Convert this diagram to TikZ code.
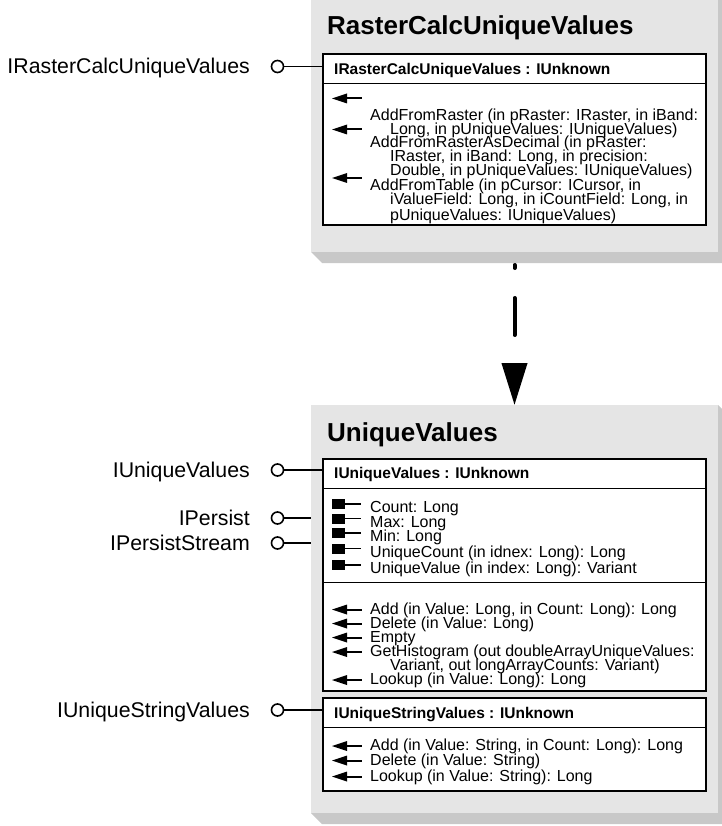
\documentclass[tikz,border=0pt]{standalone}
\usepackage{fontspec}
\setmainfont{Liberation Sans}
\usetikzlibrary{arrows.meta}
\definecolor{panelgray}{RGB}{229,229,229}
\definecolor{shadegray}{RGB}{200,200,200}
\newcommand{\methodicon}[1]{\fill (332,#1) -- (347,{#1-5}) -- (347,{#1+5}) -- cycle; \draw[line width=2pt] (346,#1) -- (362,#1);}
\newcommand{\attricon}[1]{\fill (332,{#1-5}) rectangle (345,{#1+5}); \draw[line width=1.6pt] (344,#1) -- (361,#1);}
\begin{document}
\begin{tikzpicture}[x=1pt,y=-1pt,
  panelbox/.style={rectangle,fill=panelgray,draw=none,inner sep=0pt,outer sep=0pt,minimum width=407pt,anchor=north west},
  innerbox/.style={rectangle,draw,line width=2pt,fill=white,inner sep=0pt,outer sep=0pt,minimum width=383pt,anchor=north west},
  titletext/.style={anchor=base west,inner sep=0pt,font=\bfseries\fontsize{26}{26}\selectfont},
  hdrtext/.style={anchor=base west,inner sep=0pt,font=\bfseries\fontsize{15.5}{16}\selectfont},
  membertext/.style={anchor=base west,inner sep=0pt,text height=10pt,text depth=2pt,font=\fontsize{16}{16}\selectfont},
  lbltext/.style={anchor=base east,inner sep=0pt,font=\fontsize{21.3}{21}\selectfont},
  lolli/.style={circle,draw,line width=1.6pt,fill=white,minimum size=12pt,inner sep=0pt},
  stick/.style={line width=1.5pt},
  sepline/.style={line width=0.8pt}]
\useasboundingbox (0,0) rectangle (721,826);

% ---------- top panel ----------
\node[panelbox,minimum height=257pt] (p1) at (311,-5) {};
\fill[shadegray] (p1.north east) -- ++(11,11) -- ([shift={(11,11)}]p1.south east) -- ([shift={(11,11)}]p1.south west) -- (p1.south west) -- (p1.south east) -- cycle;
\node[titletext] (t1) at (327,34.5) {RasterCalcUniqueValues};
\node[innerbox,minimum height=171pt] (b1) at (323,54) {};
\draw[sepline] ([yshift=-29pt]b1.north west) -- ([yshift=-29pt]b1.north east);
\node[hdrtext] (h1) at (334,75) {IRasterCalcUniqueValues : IUnknown};
\methodicon{98.5}
\methodicon{129.5}
\methodicon{178}
\node[membertext] (a1) at (370,120.5) {AddFromRaster (in pRaster: IRaster, in iBand:};
\node[membertext] (a2) at (390,134.5) {Long, in pUniqueValues: IUniqueValues)};
\node[membertext] (a3) at (370,148) {AddFromRasterAsDecimal (in pRaster:};
\node[membertext] (a4) at (390,162) {IRaster, in iBand: Long, in precision:};
\node[membertext] (a5) at (390,176) {Double, in pUniqueValues: IUniqueValues)};
\node[membertext] (a6) at (370,191) {AddFromTable (in pCursor: ICursor, in};
\node[membertext] (a7) at (390,205) {iValueField: Long, in iCountField: Long, in};
\node[membertext] (a8) at (390,220) {pUniqueValues: IUniqueValues)};

% ---------- bottom panel ----------
\node[panelbox,minimum height=408pt] (p2) at (311,405) {};
\fill[shadegray] (p2.north east) -- ++(11,11) -- ([shift={(11,11)}]p2.south east) -- ([shift={(11,11)}]p2.south west) -- (p2.south west) -- (p2.south east) -- cycle;
\node[titletext] (t2) at (327,441) {UniqueValues};
\node[innerbox,minimum height=232pt] (b2) at (323,459) {};
\draw[sepline] ([yshift=-29pt]b2.north west) -- ([yshift=-29pt]b2.north east);
\draw[sepline] ([yshift=-123pt]b2.north west) -- ([yshift=-123pt]b2.north east);
\node[hdrtext] (h2) at (334,478) {IUniqueValues : IUnknown};
\attricon{504}
\attricon{518.5}
\attricon{533}
\attricon{548.5}
\attricon{565}
\node[membertext] (u1) at (370,512) {Count: Long};
\node[membertext] (u2) at (370,527) {Max: Long};
\node[membertext] (u3) at (370,541.5) {Min: Long};
\node[membertext] (u4) at (370,557) {UniqueCount (in idnex: Long): Long};
\node[membertext] (u5) at (370,573) {UniqueValue (in index: Long): Variant};
\methodicon{609.5}
\methodicon{623.5}
\methodicon{637.5}
\methodicon{652}
\methodicon{680}
\node[membertext] (v1) at (370,614) {Add (in Value: Long, in Count: Long): Long};
\node[membertext] (v2) at (370,628) {Delete (in Value: Long)};
\node[membertext] (v3) at (370,642) {Empty};
\node[membertext] (v4) at (370,656.5) {GetHistogram (out doubleArrayUniqueValues:};
\node[membertext] (v5) at (390,670.5) {Variant, out longArrayCounts: Variant)};
\node[membertext] (v6) at (370,684.5) {Lookup (in Value: Long): Long};

\node[innerbox,minimum height=93pt] (b3) at (323,698) {};
\draw[sepline] ([yshift=-29pt]b3.north west) -- ([yshift=-29pt]b3.north east);
\node[hdrtext] (h3) at (334,718) {IUniqueStringValues : IUnknown};
\methodicon{746}
\methodicon{760.5}
\methodicon{776.5}
\node[membertext] (w1) at (370,750.5) {Add (in Value: String, in Count: Long): Long};
\node[membertext] (w2) at (370,765) {Delete (in Value: String)};
\node[membertext] (w3) at (370,781) {Lookup (in Value: String): Long};

% ---------- dependency arrow ----------
\draw[line width=4pt,line cap=round,dash pattern=on 3pt off 30pt on 37pt off 30pt,
  -{Triangle[length=42pt,width=25pt]}] ([yshift=-13pt]p1.south) -- (p2.north);

% ---------- lollipops ----------
\node[lolli] (c1) at (277.5,66.5) {};
\draw[stick] (c1) -- (c1 -| b1.west);
\node[lbltext] (l1) at (250,73.5) {IRasterCalcUniqueValues};
\node[lolli] (c2) at (277.5,470) {};
\draw[stick] (c2) -- (c2 -| b2.west);
\node[lbltext] (l2) at (250,477) {IUniqueValues};
\node[lolli] (c3) at (277.5,518) {};
\draw[stick] (c3) -- (c3 -| p2.west);
\node[lbltext] (l3) at (250,525) {IPersist};
\node[lolli] (c4) at (277.5,543) {};
\draw[stick] (c4) -- (c4 -| p2.west);
\node[lbltext] (l4) at (250,550) {IPersistStream};
\node[lolli] (c5) at (277.5,710) {};
\draw[stick] (c5) -- (c5 -| b3.west);
\node[lbltext] (l5) at (250,717) {IUniqueStringValues};
\end{tikzpicture}
\end{document}
